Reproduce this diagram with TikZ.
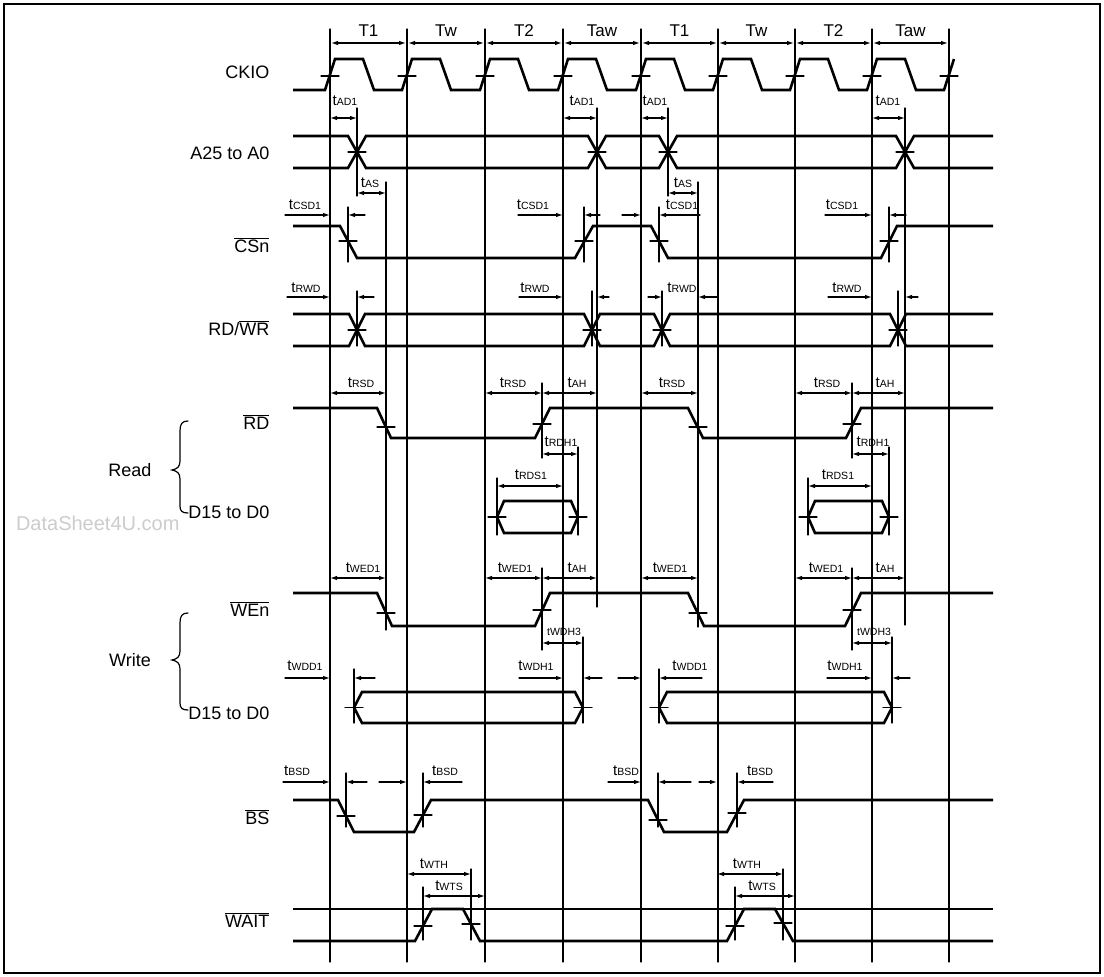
\documentclass[tikz,border=0pt]{standalone}
\usepackage{fontspec}
\setmainfont{Liberation Sans}
\usetikzlibrary{arrows.meta}
\newcommand\tm[1]{t{\fontsize{10.5}{10.5}\selectfont #1}}
\newcommand\ovl[1]{$\overline{\hbox{#1}}$}

\begin{document}
\begin{tikzpicture}[x=1pt,y=-1pt,>={Latex[length=7pt,width=4.5pt]},line cap=round,
  font=\fontsize{15}{15}\selectfont,
  sig/.style={line width=2.6pt,line cap=butt},
  ln/.style={line width=1.2pt},
  sl/.style={font=\fontsize{18}{18}\selectfont,anchor=east}]
\useasboundingbox (0,0) rectangle (1104,977);
\draw[line width=2.5pt] (4,4) rectangle (1100,973);
\node[anchor=east,text=gray!40,font=\fontsize{20}{20}\selectfont] (wm) at (183,523) {DataSheet4U.com};
\foreach \a/\b/\lab [count=\i] in {330/407/T1,407/485/Tw,485/563/T2,563/641/Taw,641/718/T1,718/795/Tw,795/872/T2,872/949/Taw}{
  \draw[ln,<->] (\a+1,43) -- (\b-1,43);
  \node[font=\fontsize{17}{17}\selectfont] (per\i) at ({(\a+\b)/2},31) {\lab};
}
\foreach \e in {330,407,485,563,641,718,795,872,949}{
  \draw[ln] (\e,29) -- (\e,962);
  \draw[ln] (\e-9,76) -- (\e+9,76);
}
\node[sl] (ckio) at (273,72) {CKIO};
\node[sl] (addr) at (273,153) {A25 to A0};
\node[sl] (csn) at (273,245) {\ovl{CSn}};
\node[sl] (rdwr) at (273,328) {RD/\ovl{WR}};
\node[sl] (rd) at (273,422) {\ovl{RD}};
\node[sl] (rdata) at (273,512) {D15 to D0};
\node[sl] (wen) at (273,609) {\ovl{WEn}};
\node[sl] (wdata) at (273,713) {D15 to D0};
\node[sl] (bs) at (273,817) {\ovl{BS}};
\node[sl] (wait) at (273,920) {\ovl{WAIT}};
\node[font=\fontsize{18}{18}\selectfont] (read) at (130,470) {Read};
\node[font=\fontsize{18}{18}\selectfont] (write) at (130,660) {Write};
\draw[ln] (188,421) .. controls (182,421) and (180,424) .. (180,431) -- (180,461) .. controls (180,467) and (177,469) .. (172,470) .. controls (177,471) and (180,473) .. (180,479) -- (180,506) .. controls (180,511) and (182,513) .. (188,513);
\draw[ln] (188,613) .. controls (182,613) and (180,616) .. (180,623) -- (180,651) .. controls (180,657) and (177,659) .. (172,660) .. controls (177,661) and (180,663) .. (180,669) -- (180,703) .. controls (180,708) and (182,710) .. (188,710);
\draw[sig] (293,90) \foreach \e in {330,407,485,563,641,718,795,872}{ -- (\e-5,90) -- (\e+5,59) -- (\e+33,59) -- (\e+44,90) } -- (944,90) -- (954,59);
\draw[sig] (293,136) -- (348,136) -- (366,168) -- (588,168) -- (606,136) -- (659,136) -- (677,168) -- (896,168) -- (914,136) -- (993,136);
\draw[sig] (293,168) -- (348,168) -- (366,136) -- (588,136) -- (606,168) -- (659,168) -- (677,136) -- (896,136) -- (914,168) -- (993,168);
\draw[sig] (293,226) -- (340,226) -- (357,258) -- (575,258) -- (593,226) -- (651,226) -- (668,258) -- (881,258) -- (897,226) -- (993,226);
\draw[sig] (293,314) -- (349,314) -- (365,346) -- (584,346) -- (600,314) -- (654,314) -- (670,346) -- (890,346) -- (906,314) -- (993,314);
\draw[sig] (293,346) -- (349,346) -- (365,314) -- (584,314) -- (600,346) -- (654,346) -- (670,314) -- (890,314) -- (906,346) -- (993,346);
\draw[sig] (293,408) -- (377,408) -- (391,438) -- (535,438) -- (550,408) -- (688,408) -- (703,438) -- (846,438) -- (861,408) -- (993,408);
\foreach \a/\b in {497/578,808/889}
  \draw[sig] (\a,517) -- (\a+7,501) -- (\b-7,501) -- (\b,517) -- (\b-7,533) -- (\a+7,533) -- cycle;
\draw[sig] (293,593) -- (377,593) -- (392,626) -- (535,626) -- (550,593) -- (688,593) -- (704,626) -- (845,626) -- (861,593) -- (993,593);
\foreach \a/\b in {354/583,659/892}
  \draw[sig] (\a,707.5) -- (\a+8,692) -- (\b-8,692) -- (\b,707.5) -- (\b-8,723) -- (\a+8,723) -- cycle;
\draw[sig] (293,800) -- (338,800) -- (354,832) -- (414,832) -- (431,800) -- (648,800) -- (664,832) -- (727,832) -- (744,800) -- (993,800);
\draw[sig] (293,909) -- (993,909);
\draw[sig] (293,941) -- (415,941) -- (432,909) -- (463,909) -- (480,941) -- (727,941) -- (744,909) -- (775,909) -- (793,941) -- (993,941);
\foreach \x/\y in {357/152,597/152,668/152,905/152,348/241,584/241,659/241,889/241,
  357/330,592/330,662/330,898/330,386/427,542/424,698/427,852/424,
  497/517,578/517,808/517,889/517,386/613,542/610,698/613,852/610,
  354/707.5,583/707.5,659/707.5,892/707.5,346/816,423/815,658/820,737/813,
  423/926,471/924,735/926,783/923}
  \draw[ln] (\x-9,\y) -- (\x+9,\y);
\foreach \x/\a/\b in {357/108/196,386/182/630,597/108/607,348/207/262,584/207/262,
  357/291/346,592/291/346,542/383/458,578/447/535,497/478/535,542/568/650,
  583/637/723,354/669/723,346/773/827,423/773/827,423/887/940,471/869/940,
  668/108/196,698/182/627,905/108/625,659/207/262,889/207/262,662/291/346,
  898/291/346,852/383/458,889/447/535,808/478/535,852/568/650,892/637/723,
  659/669/723,658/773/827,737/773/827,735/887/940,783/869/940}
  \draw[ln] (\x,\a) -- (\x,\b);
\foreach \a/\b/\y in {330/357/118,563/597/118,641/668/118,872/905/118,357/386/193,668/698/193,
  330/386/393,485/542/393,641/698/393,795/852/393,542/597/393,852/905/393,
  542/578/454,852/889/454,497/563/486,808/872/486,
  330/386/578,485/542/578,641/698/578,795/852/578,542/597/578,852/905/578,
  542/583/643,852/892/643,407/471/874,717/783/874,423/485/896,735/795/896}
  \draw[ln,<->] (\a,\y) -- (\b,\y);
\foreach \a/\b/\y in {285/330/215,365/348/215,518/563/215,600/584/215,622/641/215,700/659/215,825/872/215,906/889/215,
  287/330/297,374/357/297,519/563/297,609/597/297,648/662/297,717/698/297,828/872/297,918/905/297,
  285/330/678,375/354/678,519/563/678,602/583/678,618/641/678,702/659/678,827/872/678,910/892/678,
  283/330/782,367/346/782,379/407/782,462/423/782,608/641/782,691/658/782,699/717/782,773/737/782}
  \draw[ln,->] (\a,\y) -- (\b,\y);
\foreach \x/\y/\s [count=\i] in {345/101/AD1,582/101/AD1,655/101/AD1,888/101/AD1,370/183/AS,683/183/AS,
  305/205/CSD1,533/205/CSD1,682/205/CSD1,842/205/CSD1,306/288/RWD,535/288/RWD,682/288/RWD,847/288/RWD,
  361/383/RSD,513/383/RSD,672/383/RSD,827/383/RSD,577/383/AH,885/383/AH,
  561/442/RDH1,873/442/RDH1,531/475/RDS1,838/475/RDS1,
  363/568/WED1,515/568/WED1,670/568/WED1,826/568/WED1,577/568/AH,885/568/AH,
  305/666/WDD1,690/666/WDD1,536/666/WDH1,845/666/WDH1,
  297/771/BSD,445/771/BSD,626/771/BSD,760/771/BSD,434/864/WTH,747/864/WTH,449/886/WTS,762/886/WTS}
  \node (t\i) at (\x,\y) {\tm{\s}};
\node[font=\fontsize{10.5}{10.5}\selectfont] (wdh3a) at (564,632) {tWDH3};
\node[font=\fontsize{10.5}{10.5}\selectfont] (wdh3b) at (874,632) {tWDH3};
\end{tikzpicture}
\end{document}
